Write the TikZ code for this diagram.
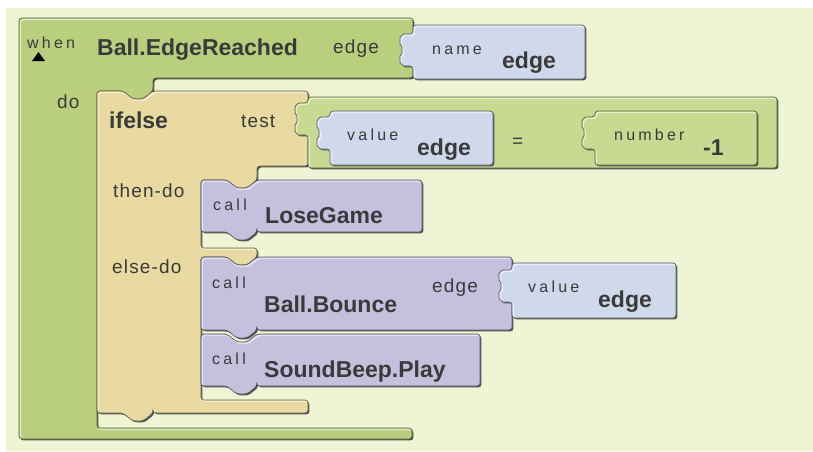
\documentclass[tikz,border=0pt]{standalone}
\usepackage{fontspec}
\setmainfont{Liberation Sans}
\newfontfamily\smallsp[LetterSpace=20]{Liberation Sans}
\newfontfamily\medsp[LetterSpace=6]{Liberation Sans}
\definecolor{bgc}{HTML}{EEF4D4}
\definecolor{evgreen}{HTML}{B9CF7E}
\definecolor{eqgreen}{HTML}{C8DA92}
\definecolor{tanc}{HTML}{E8DAA0}
\definecolor{purp}{HTML}{C4C0DE}
\definecolor{bluec}{HTML}{D0D8EB}
\definecolor{txt}{HTML}{3A3A3A}
\definecolor{shadowc}{HTML}{505050}
\newcommand{\plugL}[2]{-- (#1,#2+32) -- (#1-6,#2+32) to[out=180,in=-90] (#1-13,#2+25) to[out=90,in=-90] (#1-11,#2+16) to[out=90,in=-90] (#1-13,#2+7) to[out=90,in=180] (#1-6,#2) -- (#1,#2)}
\newcommand{\notchR}[2]{-- (#1+26,#2) -- (#1+36,#2+8) -- (#1+46,#2+8) -- (#1+56,#2)}
\newcommand{\notchL}[2]{-- (#1+56,#2) -- (#1+46,#2+8) -- (#1+36,#2+8) -- (#1+26,#2)}
\newcommand{\blk}[2]{\fill[shadowc,shift={(1.4,1.4)},rounded corners=3] #2;
  \fill[#1,rounded corners=3] #2;
  \begin{scope}\clip[rounded corners=3] #2;
  \draw[white,opacity=0.55,line width=1.6pt,shift={(1.3,1.3)},rounded corners=3] #2;
  \end{scope}
  \draw[#1!45!black,line width=0.7pt,rounded corners=3] #2;}
\tikzset{
  lblS/.style={anchor=base west, inner sep=0, text=txt, font=\smallsp\fontsize{16}{18}\selectfont},
  lblM/.style={anchor=base west, inner sep=0, text=txt, font=\medsp\fontsize{19}{22}\selectfont},
  lblB/.style={anchor=base west, inner sep=0, text=txt, font=\bfseries\fontsize{23}{26}\selectfont}
}
\begin{document}
\begin{tikzpicture}[x=1pt,y=-1pt]
\useasboundingbox (0,0) rectangle (813,451);
\fill[white] (0,0) rectangle (813,451);
\fill[bgc] (6,8) rectangle (813,451);
% event block
\blk{evgreen}{(19,18) -- (413,18) -- (413,78) -- (153,78) -- (153,91) \notchL{97}{91} -- (97,91) -- (97,428) -- (412,428) -- (412,439) -- (19,439) -- cycle}
% name block
\blk{bluec}{(413,25) -- (585,25) -- (585,79) -- (413,79) \plugL{413}{34} -- cycle}
% ifelse block
\blk{tanc}{(97,91) \notchR{97}{91} -- (308,91) -- (308,166) -- (257,166) -- (257,180) \notchL{201}{180} -- (201,180) -- (201,248) -- (257,248) -- (257,257) \notchL{201}{257} -- (201,257) -- (201,400) -- (308,400) -- (308,413) -- (153,413) \notchL{97}{413} -- (97,413) -- cycle}
% equals block
\blk{eqgreen}{(308,97) -- (777,97) -- (777,168) -- (308,168) \plugL{308}{103} -- cycle}
\blk{bluec}{(330,111) -- (493,111) -- (493,165) -- (330,165) \plugL{330}{117} -- cycle}
\blk{eqgreen}{(595,111) -- (757,111) -- (757,165) -- (595,165) \plugL{595}{117} -- cycle}
% LoseGame
\blk{purp}{(201,180) \notchR{201}{180} -- (422,180) -- (422,232) -- (257,232) \notchL{201}{232} -- (201,232) -- cycle}
% Ball.Bounce
\blk{purp}{(201,257) \notchR{201}{257} -- (512,257) -- (512,330) -- (257,330) \notchL{201}{330} -- (201,330) -- cycle}
\blk{bluec}{(512,263) -- (676,263) -- (676,318) -- (512,318) \plugL{512}{270} -- cycle}
% SoundBeep.Play
\blk{purp}{(201,334) \notchR{201}{334} -- (480,334) -- (480,386) -- (257,386) \notchL{201}{386} -- (201,386) -- cycle}
% triangle
\fill[black] (32,61) -- (45,61) -- (38.5,52) -- cycle;
% labels
\node[lblS] (when) at (27,48) {when};
\node[lblB] (evname) at (97,55) {Ball.EdgeReached};
\node[lblM] (edgelbl) at (333,53) {edge};
\node[lblS] (namelbl) at (432,54) {name};
\node[lblB] (nameval) at (502,68) {edge};
\node[lblM] (dolbl) at (57,108) {do};
\node[lblB] (ifelse) at (109,128) {ifelse};
\node[lblM] (testlbl) at (241,127) {test};
\node[lblS] (val1) at (347,140) {value};
\node[lblB] (val1e) at (417,155) {edge};
\node[lblM] (eq) at (512,147) {=};
\node[lblS] (numlbl) at (614,140) {number};
\node[lblB] (numval) at (703,155) {-1};
\node[lblM] (thenlbl) at (113,197) {then-do};
\node[lblM] (elselbl) at (112,273) {else-do};
\node[lblS] (call1) at (213,210) {call};
\node[lblB] (lose) at (265,223) {LoseGame};
\node[lblS] (call2) at (212,288) {call};
\node[lblB] (bounce) at (264,312) {Ball.Bounce};
\node[lblM] (edgelbl2) at (432,292) {edge};
\node[lblS] (val2) at (528,292) {value};
\node[lblB] (val2e) at (598,307) {edge};
\node[lblS] (call3) at (212,364) {call};
\node[lblB] (beep) at (264,377) {SoundBeep.Play};
\end{tikzpicture}
\end{document}
